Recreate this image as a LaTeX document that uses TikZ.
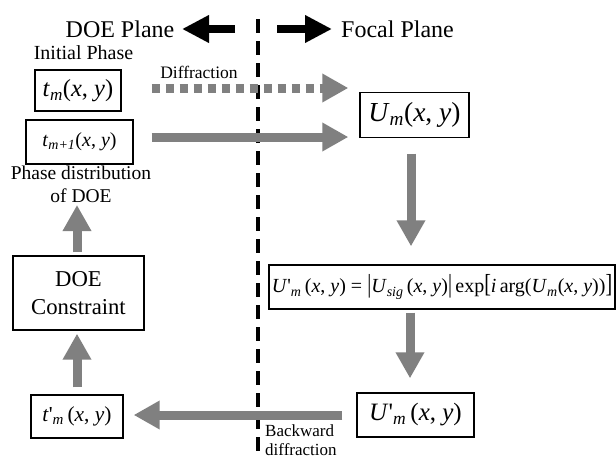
\documentclass[tikz,border=0pt]{standalone}
\usepackage{fontspec}
\setmainfont{Liberation Serif}
\usetikzlibrary{arrows.meta,calc}
\definecolor{arrgray}{RGB}{128,128,128}
\tikzset{
  box/.style={draw=black, line width=1.3pt, inner sep=0pt, align=center},
  fat/.style={draw=arrgray, line width=9pt, -{Triangle[width=27pt,length=26pt]}},
  blk/.style={draw=black, line width=8pt, -{Triangle[width=26pt,length=27pt]}},
  lbl/.style={inner sep=0pt, align=center},
}
\newcommand\vi[1]{\textit{#1}}
\newcommand\sbs[1]{\textsubscript{\textit{#1}}}
\newcommand\tallc[1]{\scalebox{1}[1.3]{#1}}
\begin{document}
\begin{tikzpicture}[x=1pt,y=-1pt]
\useasboundingbox (0,0) rectangle (616,458);
% dividing line
\coordinate (dtop) at (258,19);
\coordinate (dbot) at (258,458);
\draw[line width=4pt, dash pattern=on 14pt off 8pt] (dtop) -- (dbot);
% headings
\node[lbl, font=\fontsize{24}{26}\selectfont] (doeplane) at (120,29) {DOE Plane};
\node[lbl, font=\fontsize{24}{26}\selectfont] (focal) at (397.5,29) {Focal Plane};
\coordinate (la) at (235,29); \coordinate (lb) at (182,29);
\coordinate (ra) at (277,29); \coordinate (rb) at (332,29);
\draw[blk] (la) -- (lb);
\draw[blk] (ra) -- (rb);
% labels
\node[lbl, font=\fontsize{20}{22}\selectfont] (init) at (83.5,53) {Initial Phase};
\node[lbl, font=\fontsize{17.5}{19}\selectfont] (diff) at (199,72) {Diffraction};
\node[lbl, font=\fontsize{19.5}{23}\selectfont] (phd) at (81,184) {Phase distribution\\of DOE};
\node[lbl, align=left, anchor=north west, font=\fontsize{17}{19}\selectfont] (bwd) at (265,424) {Backward\\diffraction};
% boxes
\node[box, minimum width=86pt, minimum height=41pt, font=\fontsize{24.5}{26}\selectfont] (tm) at (78,90.5)
  {\vi{t}\sbs{m}(\vi{x}, \vi{y})};
\node[box, minimum width=107pt, minimum height=44pt, font=\fontsize{20}{22}\selectfont] (tm1) at (79.5,142)
  {\vi{t}\sbs{m+1}(\vi{x}, \vi{y})};
\node[box, minimum width=109pt, minimum height=45pt, font=\fontsize{27.5}{29}\selectfont] (Um) at (414.5,115)
  {\vi{U}\sbs{m}(\vi{x}, \vi{y})};
\node[box, minimum width=131pt, minimum height=74pt, font=\fontsize{22.7}{28}\selectfont] (doe) at (78.5,293)
  {DOE\\Constraint};
\node[box, minimum width=92pt, minimum height=43pt, font=\fontsize{21.4}{23}\selectfont] (tpm) at (77,416.5)
  {\vi{t}\textquotesingle\sbs{m}\,(\vi{x}, \vi{y})};
\node[box, minimum width=346pt, minimum height=44pt, font=\fontsize{20}{22}\selectfont] (form) at (442,287)
  {\vi{U}\textquotesingle\sbs{m}\,(\vi{x}, \vi{y}) = \tallc{|}\vi{U}\sbs{sig}\,(\vi{x}, \vi{y})\tallc{|}\,exp\tallc{[}\vi{i}\,arg(\vi{U}\sbs{m}(\vi{x}, \vi{y}))\tallc{]}};
\node[box, minimum width=117pt, minimum height=44pt, font=\fontsize{25}{27}\selectfont] (Upm) at (415.5,415)
  {\vi{U}\textquotesingle\sbs{m}\,(\vi{x}, \vi{y})};
% connectors
\draw[fat, dash pattern=on 8pt off 6pt] ([xshift=30pt,yshift=2.5pt]tm.east) -- ([xshift=-11pt,yshift=27pt]Um.west);
\draw[fat] ([xshift=18pt,yshift=5pt]tm1.east) -- ([xshift=-11pt,yshift=-22pt]Um.west);
\draw[fat] ([xshift=-3.5pt,yshift=-15.5pt]Um.south) -- ([xshift=-31pt,yshift=18pt]form.north);
\draw[fat] ([xshift=-32pt,yshift=-3pt]form.south) -- ([xshift=-5.5pt,yshift=14pt]Upm.north);
\draw[fat] ([xshift=-14pt]Upm.west) -- ([xshift=10pt,yshift=1.5pt]tpm.east);
\draw[fat] ([yshift=7pt]tpm.north) -- ([xshift=-1.5pt,yshift=-3pt]doe.south);
\coordinate (up2end) at (77,205);
\draw[fat] ([xshift=-1.5pt,yshift=3pt]doe.north) -- (up2end);
\end{tikzpicture}
\end{document}
